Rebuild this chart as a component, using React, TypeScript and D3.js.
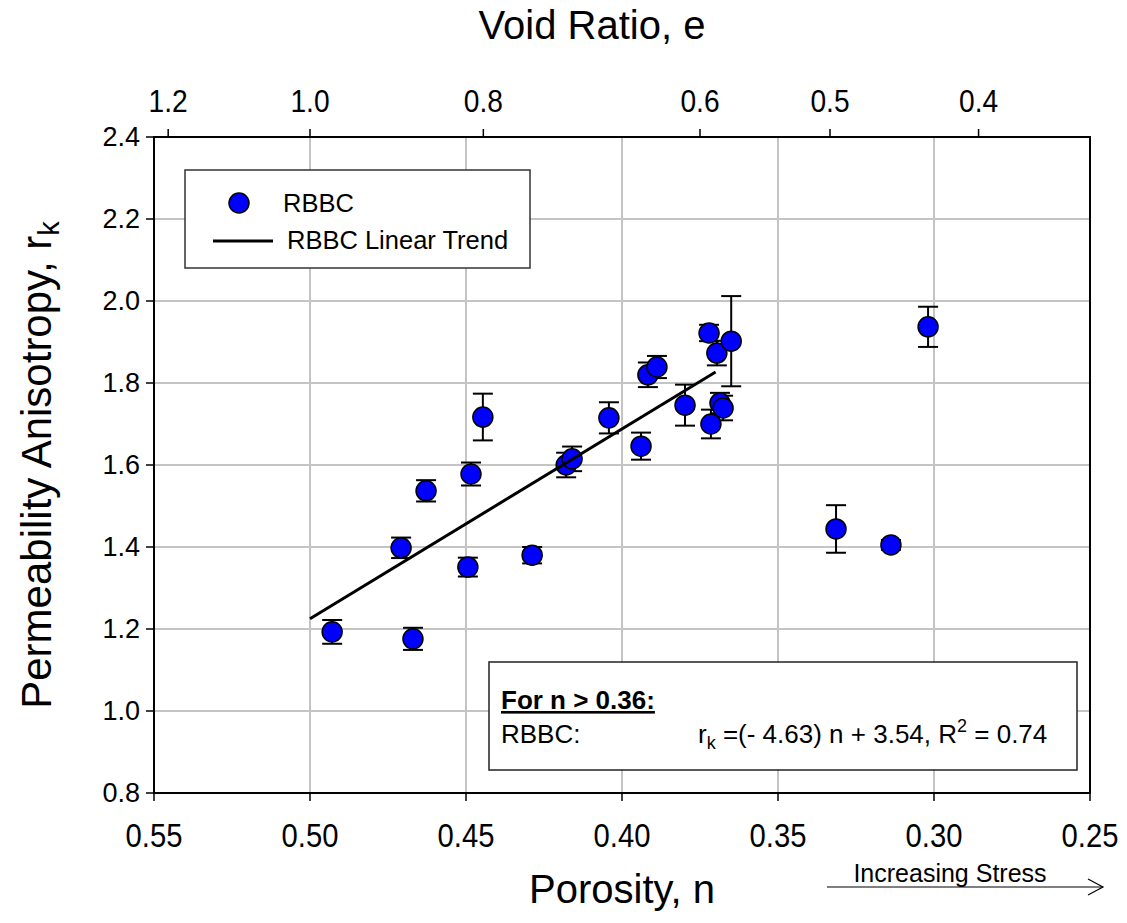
import React from "react";
import * as d3 from "d3";

const porosity = [0.4929, 0.467, 0.4708, 0.4628, 0.4494, 0.4484, 0.4446, 0.4288, 0.4179, 0.416, 0.4042, 0.3939, 0.3917, 0.3888, 0.3798, 0.3721, 0.3696, 0.365, 0.3686, 0.3676, 0.3715, 0.3314, 0.3138, 0.3019];
const anisotropy = [1.193, 1.176, 1.398, 1.537, 1.351, 1.578, 1.717, 1.38, 1.6, 1.615, 1.715, 1.646, 1.82, 1.839, 1.746, 1.922, 1.873, 1.902, 1.751, 1.739, 1.7, 1.444, 1.405, 1.937];
const errors = [0.029, 0.027, 0.025, 0.026, 0.023, 0.028, 0.057, 0.02, 0.03, 0.03, 0.038, 0.033, 0.03, 0.027, 0.05, 0.02, 0.03, 0.11, 0.025, 0.03, 0.035, 0.058, 0.012, 0.049];

const porosityTicks = [0.55, 0.5, 0.45, 0.4, 0.35, 0.3, 0.25];
const voidRatioTicks = [1.2, 1.0, 0.8, 0.6, 0.5, 0.4];
const anisotropyTicks = [0.8, 1.0, 1.2, 1.4, 1.6, 1.8, 2.0, 2.2, 2.4];

const trendSlope = -4.63;
const trendIntercept = 3.54;
const trendRange = [0.5, 0.37];

const FONT = "'Liberation Sans', Arial, sans-serif";

export default function App() {
  const left = 154, right = 1090, top = 137, bottom = 793;
  const x = d3.scaleLinear().domain([0.55, 0.25]).range([left, right]);
  const y = d3.scaleLinear().domain([0.8, 2.4]).range([bottom, top]);
  const xFromE = (e: number) => x(e / (1 + e));

  const pts = porosity.map((n, i) => ({ n, r: anisotropy[i], e: errors[i] }));
  const trend = d3.line<number>()
    .x((n) => x(n))
    .y((n) => y(trendSlope * n + trendIntercept))(trendRange);

  return (
    <svg width={1127} height={923} style={{ position: "absolute", left: 0, top: 0, background: "#fff" }} fontFamily={FONT}>
      <rect x={0} y={0} width={1127} height={923} fill="#fff" />
      {/* grid */}
      {porosityTicks.slice(1, -1).map((t) => (
        <line key={"gx" + t} x1={x(t)} x2={x(t)} y1={top} y2={bottom} stroke="#c4c4c4" strokeWidth={2} />
      ))}
      {anisotropyTicks.slice(1, -1).map((t) => (
        <line key={"gy" + t} x1={left} x2={right} y1={y(t)} y2={y(t)} stroke="#c4c4c4" strokeWidth={2} />
      ))}
      {/* frame */}
      <rect x={left} y={top} width={right - left} height={bottom - top} fill="none" stroke="#000" strokeWidth={2} />
      {/* bottom ticks */}
      {porosityTicks.map((t) => (
        <g key={"bx" + t}>
          <line x1={x(t)} x2={x(t)} y1={bottom} y2={bottom + 8} stroke="#000" strokeWidth={1.5} />
          <text transform={`translate(${x(t)},847) scale(0.86,1)`} fontSize={34} textAnchor="middle" fill="#000">{t.toFixed(2)}</text>
        </g>
      ))}
      {/* top ticks */}
      {voidRatioTicks.map((t) => (
        <g key={"tx" + t}>
          <line x1={xFromE(t)} x2={xFromE(t)} y1={top} y2={top - 8} stroke="#000" strokeWidth={1.5} />
          <text transform={`translate(${xFromE(t)},112) scale(0.88,1)`} fontSize={32} textAnchor="middle" fill="#000">{t.toFixed(1)}</text>
        </g>
      ))}
      {/* left ticks */}
      {anisotropyTicks.map((t) => (
        <g key={"ly" + t}>
          <line x1={left - 8} x2={left} y1={y(t)} y2={y(t)} stroke="#000" strokeWidth={1.5} />
          <text x={140} y={y(t)} dy="0.35em" fontSize={27} textAnchor="end" fill="#000">{t.toFixed(1)}</text>
        </g>
      ))}
      {/* titles */}
      <text x={592} y={39} fontSize={40} textAnchor="middle" fill="#000">Void Ratio, e</text>
      <text x={622} y={903} fontSize={40} textAnchor="middle" fill="#000">Porosity, n</text>
      <text transform={`translate(51,${(top + bottom) / 2}) rotate(-90)`} fontSize={42} textAnchor="middle" fill="#000">
        Permeability Anisotropy, r<tspan fontSize={29} dy={8}>k</tspan>
      </text>
      {/* increasing stress */}
      <text x={950} y={882} fontSize={25} textAnchor="middle" fill="#000">Increasing Stress</text>
      <line x1={827} x2={1103} y1={887} y2={887} stroke="#000" strokeWidth={1.2} />
      <polyline points="1088,879 1103,887 1088,895" fill="none" stroke="#000" strokeWidth={1.2} />
      {/* error bars */}
      {pts.map((p, i) => (
        <g key={"eb" + i} stroke="#000" strokeWidth={2}>
          <line x1={x(p.n)} x2={x(p.n)} y1={y(p.r - p.e)} y2={y(p.r + p.e)} />
          <line x1={x(p.n) - 10} x2={x(p.n) + 10} y1={y(p.r - p.e)} y2={y(p.r - p.e)} />
          <line x1={x(p.n) - 10} x2={x(p.n) + 10} y1={y(p.r + p.e)} y2={y(p.r + p.e)} />
        </g>
      ))}
      {/* points */}
      {pts.map((p, i) => (
        <circle key={"pt" + i} cx={x(p.n)} cy={y(p.r)} r={10} fill="#0000ff" stroke="#000" strokeWidth={1.5} />
      ))}
      {/* trend */}
      <path d={trend ?? ""} fill="none" stroke="#000" strokeWidth={3} />
      {/* legend */}
      <rect x={185} y={170} width={345} height={98} fill="#fff" stroke="#333" strokeWidth={1.5} />
      <circle cx={239} cy={203} r={10} fill="#0000ff" stroke="#000" strokeWidth={1.5} />
      <text x={283} y={212} fontSize={25.5} fill="#000">RBBC</text>
      <line x1={213} x2={273} y1={241} y2={241} stroke="#000" strokeWidth={3} />
      <text x={287} y={249} fontSize={25.5} fill="#000">RBBC Linear Trend</text>
      {/* annotation */}
      <rect x={489} y={662} width={588} height={108} fill="#fff" stroke="#222" strokeWidth={1.5} />
      <text x={501} y={709} fontSize={26} fontWeight="bold" textDecoration="underline" fill="#000">For n &gt; 0.36:</text>
      <text x={501} y={743} fontSize={26} fill="#000">RBBC:</text>
      <text x={698} y={743} fontSize={26} fill="#000">
        r<tspan fontSize={18} dy={6}>k</tspan><tspan dy={-6}> =(- 4.63) n + 3.54, R</tspan><tspan fontSize={18} dy={-11}>2</tspan><tspan dy={11}> = 0.74</tspan>
      </text>
    </svg>
  );
}
